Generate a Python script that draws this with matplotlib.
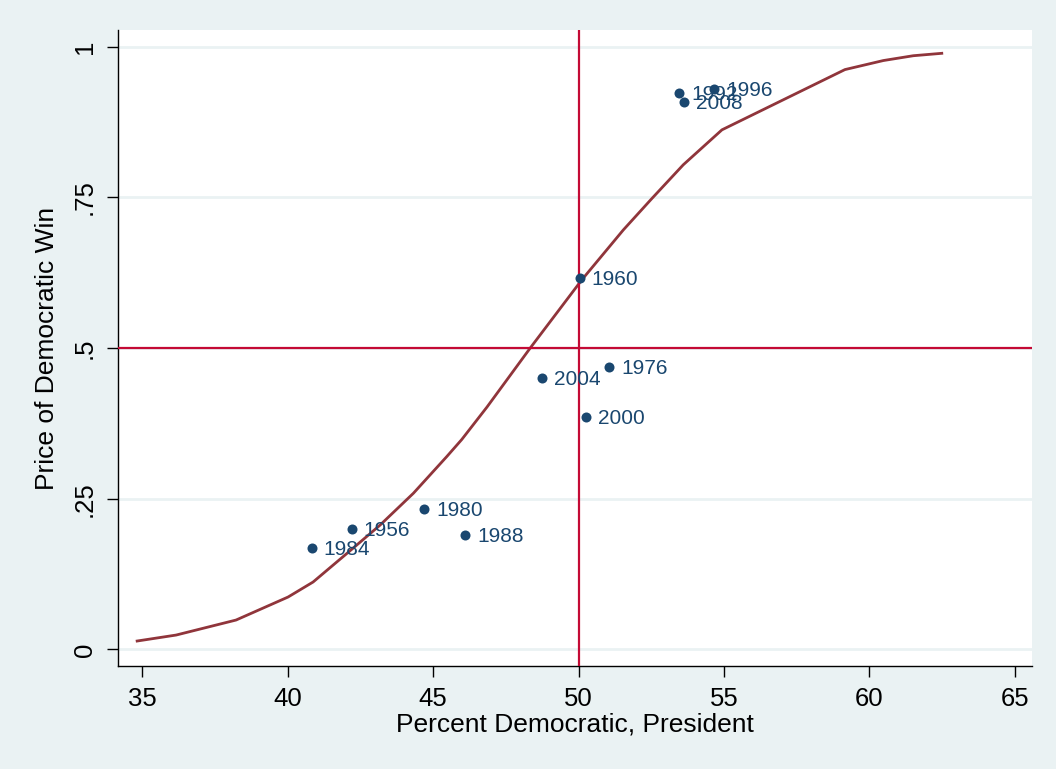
import numpy as np
import matplotlib.pyplot as plt

plt.rcParams['font.family'] = ['Liberation Sans', 'DejaVu Sans']

# election points (percent democratic vote, price of democratic win)
years = ['1956', '1960', '1976', '1980', '1984', '1988', '1992', '1996', '2000', '2004', '2008']
vote = [42.21, 50.05, 51.05, 44.69, 40.82, 46.10, 53.46, 54.66, 50.27, 48.74, 53.63]
price = [0.200, 0.616, 0.468, 0.233, 0.168, 0.190, 0.923, 0.930, 0.385, 0.450, 0.908]

# fitted curve
fit_x = [34.82, 36.16, 38.22, 40.01, 40.87, 42.03, 43.17, 44.32, 45.47, 45.98, 46.85,
         48.33, 50.11, 51.54, 52.52, 53.60, 54.93, 59.16, 60.48, 61.51, 62.49]
fit_y = [0.0138, 0.0237, 0.0486, 0.0868, 0.1117, 0.159, 0.206, 0.259, 0.320, 0.348, 0.402,
         0.4995, 0.613, 0.696, 0.748, 0.804, 0.862, 0.962, 0.977, 0.985, 0.989]

xticks = [35, 40, 45, 50, 55, 60, 65]
yticks = [0, 0.25, 0.5, 0.75, 1]
ytick_labels = ['0', '.25', '.5', '.75', '1']

bg = '#EAF2F3'
navy = '#1a476f'
maroon = '#90353b'
refred = '#C40A35'

fig = plt.figure(figsize=(10.56, 7.69), dpi=100, facecolor=bg)
ax = fig.add_axes([0.1117, 0.1339, 0.8655, 0.8271])
ax.set_facecolor('white')

for y in yticks:
    ax.axhline(y, color=bg, lw=2, zorder=0)

ax.plot(fit_x, fit_y, color=maroon, lw=2, zorder=2)
ax.axvline(50, color=refred, lw=1.6, zorder=3)
ax.axhline(0.5, color=refred, lw=1.6, zorder=3)
ax.scatter(vote, price, s=52, color=navy, zorder=4, linewidths=0)
# labels to the right of each point (1992/1996/2008 overlap as in the original)
for yr, x, y in zip(years, vote, price):
    ax.annotate(yr, (x, y), xytext=(8.5, -1), textcoords='offset points',
                ha='left', va='center', fontsize=15, color=navy, zorder=5)

ax.set_xlim(34.16, 65.59)
ax.set_ylim(-0.0277, 1.0277)
ax.set_xticks(xticks)
ax.set_yticks(yticks)
ax.set_yticklabels(ytick_labels)
ax.tick_params(axis='both', direction='out', length=8, width=1, labelsize=18.5, pad=7)
for lab in ax.get_yticklabels():
    lab.set_rotation(90)
    lab.set_va('center')

for s in ['top', 'right']:
    ax.spines[s].set_visible(False)
for s in ['left', 'bottom']:
    ax.spines[s].set_linewidth(1)

ax.set_xlabel('Percent Democratic, President', fontsize=19, labelpad=1)
ax.set_ylabel('Price of Democratic Win', fontsize=19, labelpad=10)

fig.savefig('out.png', dpi=100, facecolor=bg)
